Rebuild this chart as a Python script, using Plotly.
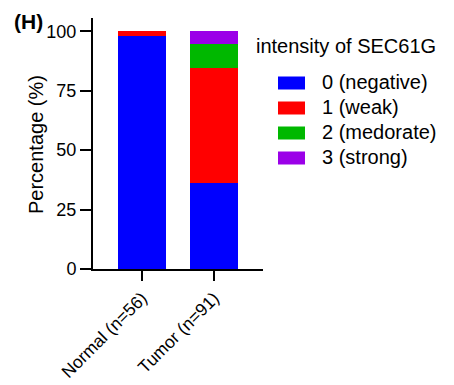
import plotly.graph_objects as go

categories = ["Normal (n=56)", "Tumor (n=91)"]
series_names = ["0 (negative)", "1 (weak)", "2 (medorate)", "3 (strong)"]
negative = [98.2, 36.3]
weak = [1.8, 48.4]
moderate = [0.0, 9.9]
strong = [0.0, 5.5]
colors = ["#0000FF", "#FF0000", "#00B800", "#9B00E8"]
y_ticks = [0, 25, 50, 75, 100]
y_title = "Percentage (%)"
legend_title = "intensity of SEC61G"
panel_label = "(H)"

FONT = "Arial, Liberation Sans, sans-serif"
fig = go.Figure()
for name, vals, col in zip(series_names, [negative, weak, moderate, strong], colors):
    fig.add_trace(go.Bar(x=categories, y=vals, name=name, marker=dict(color=col, line=dict(width=0)),
                         showlegend=False))

def px_x(x):
    return (x - 93) / 170

def px_y(y):
    return (269 - y) / 251

# custom legend (swatches + text)
leg_x0, leg_y0, step = 278, 83, 25
W, H = 454, 385
for i, (name, col) in enumerate(zip(series_names, colors)):
    yc = leg_y0 + i * step
    fig.add_shape(type="rect", xref="paper", yref="paper",
                  x0=px_x(leg_x0), x1=px_x(leg_x0 + 27),
                  y0=px_y(yc + 6.5), y1=px_y(yc - 6.5),
                  fillcolor=col, line=dict(width=0))
    fig.add_annotation(text=name, xref="paper", yref="paper",
                       x=px_x(320), y=px_y(yc - 1), xanchor="left", yanchor="middle",
                       showarrow=False, font=dict(family=FONT, size=20, color="black"))
fig.add_annotation(text=legend_title, xref="paper", yref="paper",
                   x=px_x(254), y=px_y(46), xanchor="left", yanchor="middle",
                   showarrow=False, font=dict(family=FONT, size=20, color="black"))
fig.add_annotation(text="<b>" + panel_label + "</b>", xref="paper", yref="paper",
                   x=px_x(12), y=px_y(22), xanchor="left", yanchor="middle",
                   showarrow=False, font=dict(family=FONT, size=21, color="black"))
fig.add_annotation(text=y_title, xref="paper", yref="paper", textangle=-90,
                   x=px_x(36), y=px_y(145), xanchor="center", yanchor="middle",
                   showarrow=False, font=dict(family=FONT, size=20, color="black"))

fig.update_layout(
    barmode="stack", bargap=0.34,
    width=W, height=H,
    margin=dict(l=93, r=191, t=18, b=116, autoexpand=False),
    plot_bgcolor="white", paper_bgcolor="white",
    font=dict(family=FONT, color="black"),
    xaxis=dict(range=[-0.68, 1.68], showline=True, linecolor="black", linewidth=2,
               ticks="outside", ticklen=10, tickwidth=2, tickcolor="black", automargin=False,
               tickangle=-45, tickfont=dict(size=17.5), showgrid=False, zeroline=False),
    yaxis=dict(range=[0, 105.6], tickvals=y_ticks, showline=True, linecolor="black", linewidth=2,
               ticks="outside", ticklen=11, tickwidth=2, tickcolor="black", automargin=False,
               tickfont=dict(size=18), showgrid=False, zeroline=False),
)
fig.write_html("out.html")
